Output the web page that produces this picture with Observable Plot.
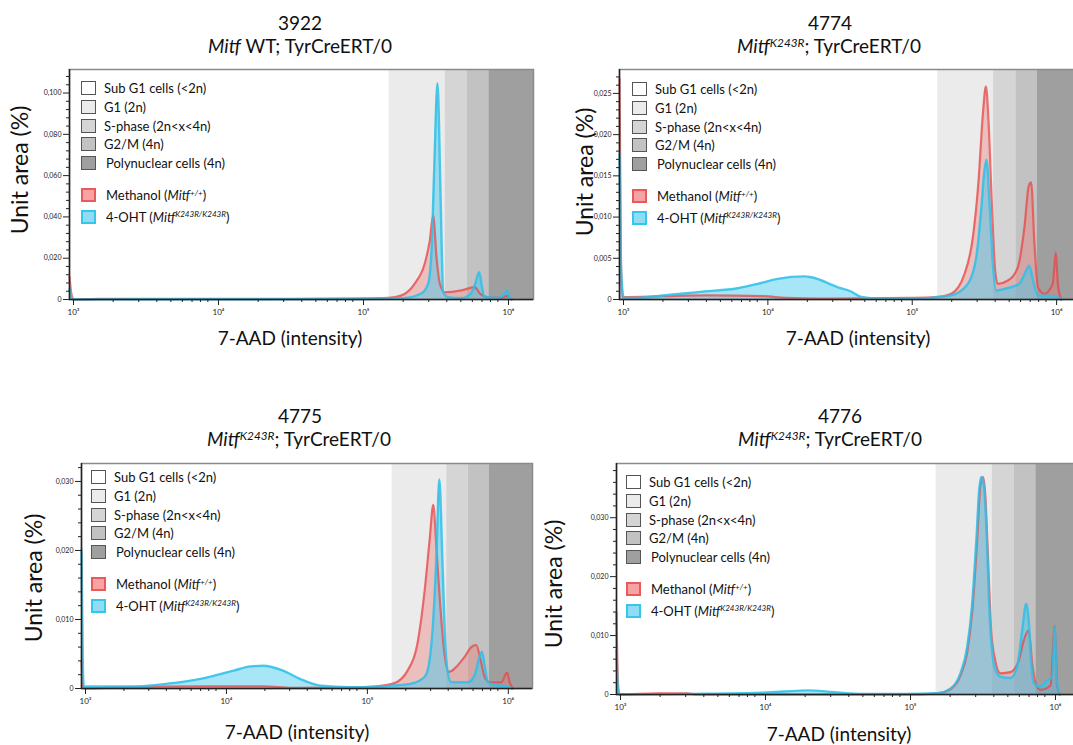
<!DOCTYPE html>
<html><head><meta charset="utf-8">
<script src="https://cdn.jsdelivr.net/npm/d3@7"></script>
<script src="https://cdn.jsdelivr.net/npm/@observablehq/plot@0.6"></script>
<style>
html,body{margin:0;padding:0;background:#fff;overflow:hidden}
#root{position:relative;width:1073px;height:745px;overflow:hidden;font-family:Lato,"Open Sans",sans-serif;color:#111}
.abs{position:absolute;white-space:nowrap;transform:translate(-50%,-50%);line-height:1}
.title{font-size:19px}
.axlab{font-size:19px}
.ylab{font-size:23px;transform:translate(-50%,-50%) rotate(-90deg)}
.leg{position:absolute;white-space:nowrap;font-size:13px;line-height:1;transform:translateY(-50%)}
.sw{position:absolute;width:15px;height:14px;box-sizing:border-box;transform:translateY(-50%)}
sup{font-size:0.62em;vertical-align:0;position:relative;top:-0.55em}
</style></head>
<body><div id="root"></div>
<script>
// ---------- data (x values stored as log10 of 7-AAD intensity) ----------
const phaseNames = ["Sub G1 cells (<2n)", "G1 (2n)", "S-phase (2n<x<4n)", "G2/M (4n)", "Polynuclear cells (4n)"];
const phaseFills = ["#ffffff", "#ebebeb", "#d5d5d5", "#c2c2c2", "#9f9f9f"];
const bandStarts = [160000, 390000, 556000, 780000];   // G1, S, G2/M, Polynuclear
const bandEnd = 1585000;
const xTickValues = [1e3, 1e4, 1e5, 1e6];
const xTickLabels = ["10\u00B3", "10\u2074", "10\u2075", "10\u2076"];
const xMinorTicks = [2e3,3e3,4e3,5e3,6e3,7e3,8e3,9e3,2e4,3e4,4e4,5e4,6e4,7e4,8e4,9e4,2e5,3e5,4e5,5e5,6e5,7e5,8e5,9e5];

const panelTitles = ["3922", "4774", "4775", "4776"];

// Panel 1 (3922)
const p1_methanol_log = [3.0, 3.015, 3.03, 3.2, 3.5, 4.0, 4.5, 5.014, 5.198, 5.29, 5.381, 5.45, 5.485, 5.508, 5.531, 5.554, 5.589, 5.703, 5.795, 5.83, 5.887, 5.98, 6.018, 6.048];
const p1_methanol_y   = [0.011, 0.002, 0, 0.0003, 0.0003, 0.0003, 0.0003, 0.0005, 0.0008, 0.002, 0.0077, 0.0174, 0.0286, 0.0407, 0.0205, 0.0077, 0.0035, 0.0044, 0.006, 0.0029, 0.0011, 0.0009, 0.0018, 0];
const p1_oht_log = [3.0, 3.015, 3.03, 3.5, 5.0, 5.3, 5.428, 5.474, 5.497, 5.515, 5.538, 5.556, 5.567, 5.577, 5.61, 5.70, 5.77, 5.80, 5.825, 5.845, 5.86, 5.95, 6.0, 6.018, 6.035, 6.05];
const p1_oht_y   = [0.005, 0.0008, 0, 0.0001, 0.0002, 0.0006, 0.003, 0.0078, 0.024, 0.0625, 0.1047, 0.06, 0.025, 0.0035, 0.0011, 0.0006, 0.003, 0.008, 0.0132, 0.006, 0.0012, 0.0008, 0.0025, 0.0044, 0.001, 0];
const p1_yTicks = [0, 0.02, 0.04, 0.06, 0.08, 0.1];
const p1_yTickLabels = ["0", "0,020", "0,040", "0,060", "0,080", "0,100"];

// Panel 2 (4774)
const p2_methanol_log = [3.0, 3.01, 3.02, 3.3, 3.6, 4.0, 4.15, 4.4, 5.0, 5.2, 5.298, 5.39, 5.448, 5.487, 5.517, 5.538, 5.556, 5.579, 5.602, 5.62, 5.69, 5.759, 5.805, 5.835, 5.851, 5.874, 5.898, 5.943, 6.001, 6.022, 6.036, 6.059];
const p2_methanol_y   = [0.0268, 0.005, 0.0003, 0.0004, 0.0005, 0.0004, 0.0002, 0.0001, 0.0002, 0.0003, 0.0007, 0.0031, 0.0076, 0.0144, 0.0225, 0.02585, 0.0217, 0.0116, 0.0035, 0.0019, 0.0023, 0.0039, 0.0088, 0.0138, 0.0142, 0.0068, 0.0015, 0.0007, 0.0019, 0.0057, 0.0019, 0];
const p2_oht_log = [3.0, 3.01, 3.03, 3.12, 3.35, 3.585, 3.817, 3.956, 4.095, 4.28, 4.33, 4.51, 4.6, 4.675, 4.8, 5.1, 5.2, 5.298, 5.413, 5.471, 5.505, 5.528, 5.542, 5.563, 5.586, 5.609, 5.69, 5.77, 5.817, 5.839, 5.863, 5.898, 6.013, 6.059];
const p2_oht_y   = [0.0177, 0.004, 0.0002, 0.0002, 0.00057, 0.00097, 0.00137, 0.0019, 0.0025, 0.0028, 0.0027, 0.0015, 0.001, 0.0003, 0.0001, 0.0001, 0.0003, 0.0005, 0.0019, 0.0051, 0.0108, 0.0157, 0.01695, 0.0116, 0.0043, 0.0011, 0.0014, 0.0019, 0.0035, 0.0041, 0.0024, 0.0005, 0.0004, 0];
const p2_yTicks = [0, 0.005, 0.01, 0.015, 0.02, 0.025];
const p2_yTickLabels = ["0", "0,005", "0,010", "0,015", "0,020", "0,025"];

// Panel 3 (4775)
const p3_methanol_log = [3.0, 3.01, 3.02, 3.3, 3.8, 4.3, 4.5, 5.0, 5.21, 5.317, 5.388, 5.435, 5.47, 5.496, 5.518, 5.541, 5.572, 5.605, 5.648, 5.719, 5.766, 5.801, 5.832, 5.86, 5.896, 5.979, 6.019, 6.038, 6.062];
const p3_methanol_y   = [0.004, 0.0005, 0, 0.0002, 0.0003, 0.0003, 0.0001, 0.0002, 0.0007, 0.0027, 0.007, 0.0142, 0.0215, 0.0266, 0.0205, 0.0133, 0.0056, 0.0024, 0.0029, 0.0046, 0.006, 0.0063, 0.0041, 0.0017, 0.0009, 0.0009, 0.0023, 0.0009, 0];
const p3_oht_log = [3.0, 3.01, 3.016, 3.37, 3.61, 3.844, 4.08, 4.2, 4.29, 4.43, 4.55, 4.70, 4.9, 5.1, 5.2, 5.34, 5.435, 5.47, 5.494, 5.518, 5.539, 5.56, 5.577, 5.596, 5.624, 5.742, 5.789, 5.825, 5.842, 5.86, 5.884, 5.931, 6.026, 6.05];
const p3_oht_y   = [0.0201, 0.003, 0.0003, 0.0003, 0.0007, 0.0014, 0.0026, 0.0032, 0.0033, 0.0026, 0.0014, 0.0004, 0.0002, 0.0002, 0.0004, 0.0007, 0.0017, 0.0041, 0.0094, 0.019, 0.0303, 0.019, 0.0085, 0.0027, 0.0009, 0.0009, 0.0019, 0.0046, 0.0053, 0.0034, 0.0009, 0.0005, 0.0003, 0];
const p3_yTicks = [0, 0.01, 0.02, 0.03];
const p3_yTickLabels = ["0", "0,010", "0,020", "0,030"];

// Panel 4 (4776)
const p4_methanol_log = [3.0, 3.01, 3.02, 3.28, 3.49, 3.55, 5.0, 5.212, 5.303, 5.372, 5.419, 5.453, 5.487, 5.51, 5.529, 5.543, 5.561, 5.575, 5.584, 5.607, 5.648, 5.717, 5.775, 5.809, 5.843, 5.867, 5.89, 5.924, 5.993, 6.023, 6.039, 6.057];
const p4_methanol_y   = [0.0139, 0.002, 0, 0.0002, 0.0002, 0, 0, 0.0002, 0.0009, 0.0032, 0.0072, 0.014, 0.026, 0.0355, 0.0369, 0.034, 0.024, 0.0155, 0.0108, 0.0064, 0.0036, 0.0038, 0.0058, 0.0092, 0.0109, 0.0053, 0.0019, 0.0008, 0.0015, 0.0117, 0.0015, 0];
const p4_oht_log = [3.0, 3.01, 3.02, 3.5, 4.0, 4.15, 4.32, 4.5, 4.7, 5.0, 5.212, 5.303, 5.372, 5.419, 5.453, 5.483, 5.501, 5.515, 5.533, 5.552, 5.568, 5.584, 5.607, 5.648, 5.717, 5.763, 5.798, 5.826, 5.843, 5.86, 5.878, 5.924, 5.97, 6.005, 6.023, 6.034, 6.057];
const p4_oht_y   = [0.0075, 0.001, 0, 0.0001, 0.0003, 0.0005, 0.0007, 0.0004, 0.0001, 0.0001, 0.0002, 0.001, 0.0036, 0.0081, 0.0154, 0.0267, 0.0346, 0.0369, 0.0355, 0.0278, 0.0166, 0.0092, 0.0047, 0.003, 0.0028, 0.0047, 0.0109, 0.0154, 0.0126, 0.0053, 0.0019, 0.0013, 0.0024, 0.003, 0.0115, 0.003, 0];
const p4_yTicks = [0, 0.01, 0.02, 0.03];
const p4_yTickLabels = ["0", "0,010", "0,020", "0,030"];

// ---------- drawing ----------
const root = document.getElementById("root");
const FONT = "Lato, 'Open Sans', sans-serif";

function toRows(logs, ys) { return logs.map((l, i) => ({x: Math.pow(10, l), y: ys[i]})); }
function esc(s) { return s.replace(/&/g, "&amp;").replace(/</g, "&lt;").replace(/>/g, "&gt;"); }

function addDiv(cls, html, x, y) {
  const d = document.createElement("div");
  d.className = cls; d.innerHTML = html;
  d.style.left = x + "px"; d.style.top = y + "px";
  root.appendChild(d); return d;
}

function makePanel(c) {
  const bands = bandStarts.map((s, i) => ({x1: s, x2: i < bandStarts.length - 1 ? bandStarts[i + 1] : bandEnd, fill: phaseFills[i + 1]}));
  const m = toRows(c.mLog, c.mY), o = toRows(c.oLog, c.oY);
  const yMinor = d3.range(c.minorStep, c.ymax, c.minorStep).filter(v => !c.yTicks.some(t => Math.abs(t - v) < 1e-9));
  const mT = 10, mB = 30, mR = 12;
  const plot = Plot.plot({
    width: c.ml + c.fw + mR, height: mT + c.fh + mB,
    marginLeft: c.ml, marginRight: mR, marginTop: mT, marginBottom: mB,
    x: {type: "log", domain: [1000, bandEnd], label: null},
    y: {domain: [0, c.ymax], label: null},
    color: {type: "identity"},
    style: {background: "transparent", fontFamily: FONT, color: "#222", overflow: "visible"},
    marks: [
      Plot.rect(bands, {x1: "x1", x2: "x2", fill: "fill"}),
      Plot.areaY(m, {x: "x", y: "y", fill: "#f07878", fillOpacity: 0.38, curve: "monotone-x"}),
      Plot.areaY(o, {x: "x", y: "y", fill: "#3cc8ee", fillOpacity: 0.45, curve: "monotone-x"}),
      Plot.lineY(m, {x: "x", y: "y", stroke: "#e64848", strokeWidth: 2.2, strokeOpacity: 0.75, curve: "monotone-x"}),
      Plot.lineY(o, {x: "x", y: "y", stroke: "#2fc0e8", strokeWidth: 2.4, strokeOpacity: 0.85, curve: "monotone-x"}),
      Plot.frame({stroke: "#8a8a8a", strokeWidth: 1.5}),
      Plot.ruleX([1000], {stroke: "#222", strokeWidth: 1.5}),
      Plot.ruleY([0], {stroke: "#222", strokeWidth: 1.5}),
      Plot.axisY(c.yTicks, {tickSize: 6, tickPadding: 2, fontSize: 7, label: null, tickFormat: d => c.yTickLabels[c.yTicks.indexOf(d)]}),
      Plot.axisY(yMinor, {tickSize: 3, label: null, tickFormat: () => ""}),
      Plot.axisX(xTickValues, {tickSize: 6, tickPadding: 4, fontSize: 8, dx: 4, label: null, tickFormat: d => xTickLabels[xTickValues.indexOf(d)]}),
      Plot.axisX(xMinorTicks, {tickSize: 3, label: null, tickFormat: () => ""})
    ]
  });
  plot.style.position = "absolute";
  plot.style.left = (c.fl - c.ml) + "px";
  plot.style.top = (c.ft - mT) + "px";
  root.appendChild(plot);

  // texts
  addDiv("abs title", c.title, c.tx, c.ty);
  addDiv("abs title", c.sub, c.sx, c.ty + 23);
  addDiv("abs axlab", "7-AAD (intensity)", c.xlx, c.xly);
  addDiv("abs ylab", "Unit area (%)", c.ylx, c.yly);

  // legend
  const rows = [0, 18.8, 37.6, 56.4, 75.2, 107, 128.5];
  const items = phaseNames.map((n, i) => ({label: esc(n), fill: phaseFills[i], stroke: "#555", sw: 1}));
  items.push({label: "Methanol (<i>Mitf</i><sup><i>+/+</i></sup>)", fill: "#f6a3a3", stroke: "#ea5a5a", sw: 2});
  items.push({label: "4-OHT (<i>Mitf</i><sup><i>K243R/K243R</i></sup>)", fill: "#8fdcf4", stroke: "#35c6ec", sw: 2});
  items.forEach((it, i) => {
    const y = c.ly + rows[i];
    const s = document.createElement("div");
    s.className = "sw";
    s.style.left = c.lx + "px"; s.style.top = y + "px";
    s.style.background = it.fill; s.style.border = it.sw + "px solid " + it.stroke;
    root.appendChild(s);
    const t = document.createElement("div");
    t.className = "leg"; t.innerHTML = it.label;
    t.style.left = (c.lx + (i >= 4 ? 25 : 23)) + "px"; t.style.top = y + "px";
    root.appendChild(t);
  });
}

makePanel({title: panelTitles[0], sub: "<i>Mitf</i> WT; TyrCreERT/0", tx: 300, sx: 300, ty: 22,
  fl: 69, ft: 69, ml: 69, fw: 464, fh: 230, ymax: 0.1114, minorStep: 0.004,
  yTicks: p1_yTicks, yTickLabels: p1_yTickLabels, mLog: p1_methanol_log, mY: p1_methanol_y, oLog: p1_oht_log, oY: p1_oht_y,
  xlx: 290, xly: 337, ylx: 19, yly: 170, lx: 81, ly: 88});
makePanel({title: panelTitles[1], sub: "<i>Mitf</i><sup><i>K243R</i></sup>; TyrCreERT/0", tx: 830, sx: 829, ty: 22,
  fl: 619, ft: 69, ml: 69, fw: 462, fh: 230, ymax: 0.0279, minorStep: 0.001,
  yTicks: p2_yTicks, yTickLabels: p2_yTickLabels, mLog: p2_methanol_log, mY: p2_methanol_y, oLog: p2_oht_log, oY: p2_oht_y,
  xlx: 858, xly: 337, ylx: 584, yly: 172, lx: 632, ly: 89});
makePanel({title: panelTitles[2], sub: "<i>Mitf</i><sup><i>K243R</i></sup>; TyrCreERT/0", tx: 300, sx: 299, ty: 415,
  fl: 81, ft: 463, ml: 69, fw: 451, fh: 225, ymax: 0.0326, minorStep: 0.002,
  yTicks: p3_yTicks, yTickLabels: p3_yTickLabels, mLog: p3_methanol_log, mY: p3_methanol_y, oLog: p3_oht_log, oY: p3_oht_y,
  xlx: 297, xly: 731, ylx: 33, yly: 578, lx: 91, ly: 477});
makePanel({title: panelTitles[3], sub: "<i>Mitf</i><sup><i>K243R</i></sup>; TyrCreERT/0", tx: 840, sx: 830, ty: 415,
  fl: 616, ft: 463, ml: 69, fw: 464, fh: 231, ymax: 0.0392, minorStep: 0.002,
  yTicks: p4_yTicks, yTickLabels: p4_yTickLabels, mLog: p4_methanol_log, mY: p4_methanol_y, oLog: p4_oht_log, oY: p4_oht_y,
  xlx: 839, xly: 733, ylx: 553, yly: 584, lx: 626, ly: 482});
</script></body></html>
